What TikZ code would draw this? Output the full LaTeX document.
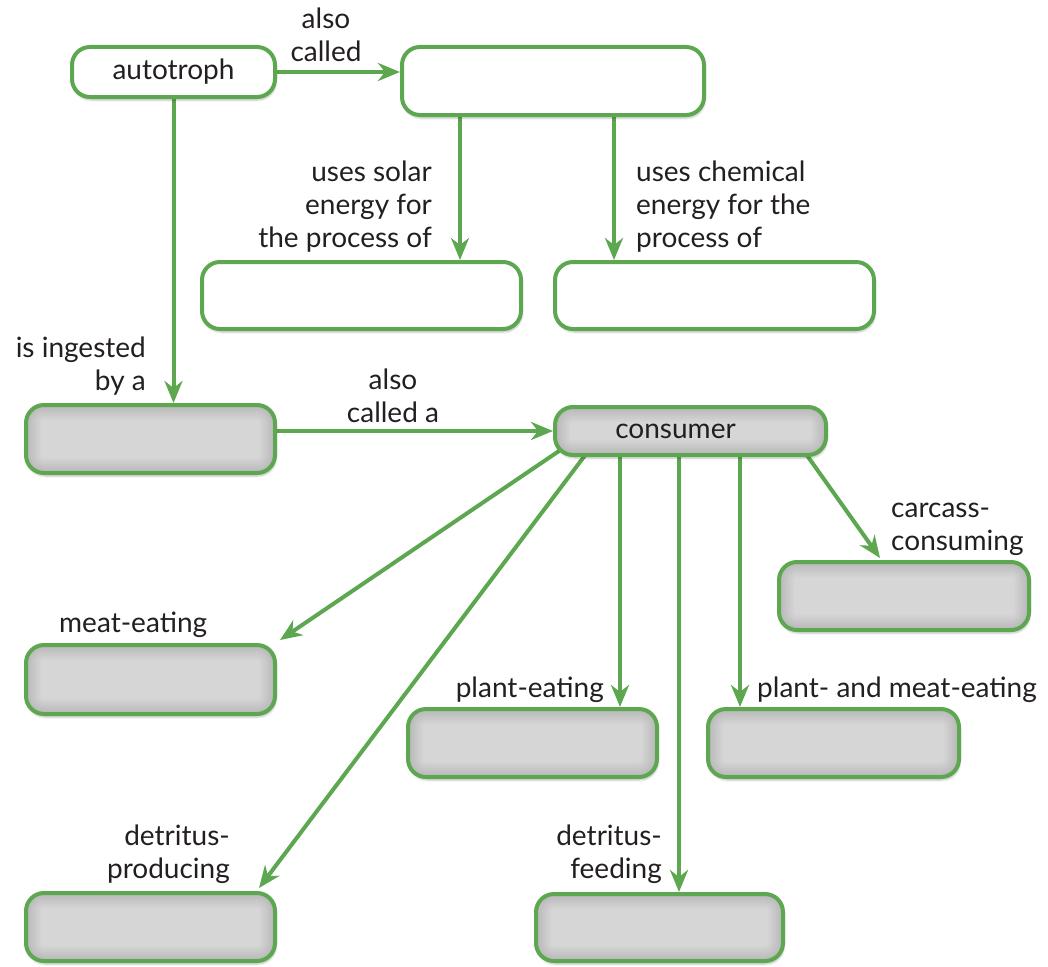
\documentclass[tikz,border=0pt]{standalone}
\usepackage{fontspec}
\setmainfont{Lato}
\usetikzlibrary{arrows.meta,shadows.blur,calc}
\definecolor{grn}{RGB}{92,167,80}
\definecolor{boxgray}{RGB}{214,214,214}
\definecolor{txt}{RGB}{35,31,32}
\pgfdeclarelayer{bg}\pgfsetlayers{bg,main}
\begin{document}
\begin{tikzpicture}[x=1pt,y=-1pt,
  every node/.style={text=txt, font=\fontsize{28}{33}\selectfont},
  box/.style={draw=grn, line width=4pt, rounded corners=18pt, fill=white, inner sep=0pt,
    blur shadow={shadow xshift=1pt, shadow yshift=-3pt, shadow blur steps=6, shadow opacity=25}},
  gbox/.style={box, fill=boxgray,
    path picture={\foreach \w in {3,6,...,30}{\draw[line width=\w pt, black, opacity=0.012, rounded corners=18pt] (path picture bounding box.south west) rectangle (path picture bounding box.north east);}}},
  arr/.style={draw=grn, line width=4pt, -{Stealth[length=22pt,width=18pt,inset=7pt]}},
  lbl/.style={inner sep=0pt, align=#1},
]
\useasboundingbox (0,0) rectangle (1048,966);

% boxes
\node[box, minimum width=203pt, minimum height=50pt] (auto) at (173.5,72) {autotroph};
\node[box, minimum width=302pt, minimum height=68pt] (top) at (553,81) {};
\node[box, minimum width=319pt, minimum height=67pt] (solar) at (361.5,295.5) {};
\node[box, minimum width=319pt, minimum height=67pt] (chem) at (714.5,295.5) {};
\node[gbox, minimum width=249pt, minimum height=68pt] (ingest) at (150.5,439) {};
\node[gbox, minimum width=271pt, minimum height=48pt] (cons) at (690.5,431) {\hspace*{-30pt}consumer};
\node[gbox, minimum width=250pt, minimum height=68pt] (carc) at (904,596) {};
\node[gbox, minimum width=249pt, minimum height=69pt] (meat) at (150.5,679.5) {};
\node[gbox, minimum width=249pt, minimum height=68pt] (plant) at (532.5,743) {};
\node[gbox, minimum width=251pt, minimum height=68pt] (pm) at (833.5,743) {};
\node[gbox, minimum width=249pt, minimum height=68pt] (detp) at (150.5,927) {};
\node[gbox, minimum width=247pt, minimum height=67pt] (detf) at (659.5,927.5) {};

% connectors
\begin{pgfonlayer}{bg}
\draw[arr] (auto.east) -- (top.west |- auto.east);
\draw[arr] (top.south -| 460,0) -- (solar.north -| 460,0);
\draw[arr] (top.south -| 614,0) -- (chem.north -| 614,0);
\draw[arr] (auto.south) -- (ingest.north -| auto.south);
\draw[arr] (ingest.east |- cons.west) -- (cons.west);
\draw[arr] ($(cons.south west)+(6,-6)$) -- ($(meat.north east)+(3,-3)$);
\draw[arr] ($(cons.south west)+(33,-3)$) -- ($(detp.north east)+(-18,-3)$);
\draw[arr] (cons.south -| 620,0) -- (plant.north -| 620,0);
\draw[arr] (cons.south -| 679,0) -- (detf.north -| 679,0);
\draw[arr] (cons.south -| 740,0) -- (pm.north -| 740,0);
\draw[arr] ($(cons.south east)+(-22,-3)$) -- ($(carc.north)+(-24,-2)$);
\end{pgfonlayer}

% labels
\node[lbl=center, anchor=north] (l1) at (326,5) {\strut also\\called};
\node[lbl=right, anchor=north east] (l2) at (432,158) {\strut uses solar\\energy for\\the process of};
\node[lbl=left, anchor=north west] (l3) at (636,158) {\strut uses chemical\\energy for the\\process of};
\node[lbl=right, anchor=north east] (l4) at (146,334) {\strut is ingested\\by a};
\node[lbl=center, anchor=north] (l5) at (393,366) {\strut also\\called a};
\node[lbl=left, anchor=north west] (l6) at (891,494) {\strut carcass-\\consuming};
\node[lbl=left, anchor=north west] (l7) at (59,609) {\strut meat-eating};
\node[lbl=right, anchor=north east] (l8) at (604,674) {\strut plant-eating};
\node[lbl=left, anchor=north west] (l9) at (757,674) {\strut plant- and meat-eating};
\node[lbl=right, anchor=north east] (l10) at (230,822) {\strut detritus-\\producing};
\node[lbl=right, anchor=north east] (l11) at (662,822) {\strut detritus-\\feeding};
\end{tikzpicture}
\end{document}
